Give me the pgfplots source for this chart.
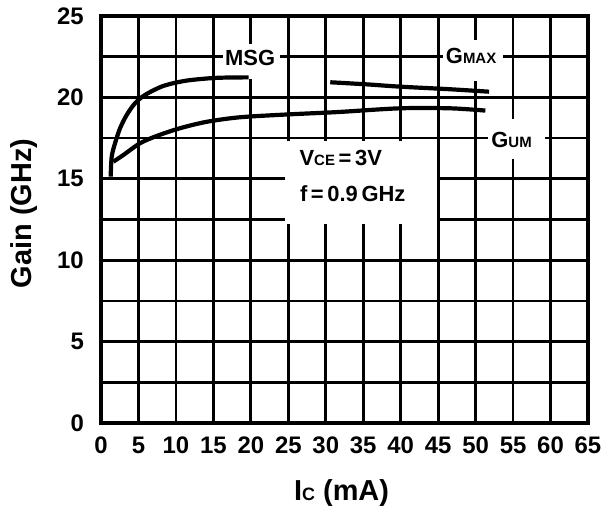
\documentclass[border=0pt]{standalone}
\usepackage{fontspec}
\setmainfont{Liberation Sans}
\usepackage{pgfplots}
\pgfplotsset{compat=1.18}
\newcommand{\tickf}{\fontsize{24}{26}\bfseries\selectfont}
\newcommand{\labf}{\fontsize{29}{31}\bfseries\selectfont}
\newcommand{\labsf}{\fontsize{18}{20}\bfseries\selectfont}
\newcommand{\bigf}{\fontsize{22}{24}\bfseries\selectfont}
\newcommand{\smf}{\fontsize{15}{16}\bfseries\selectfont}
\begin{document}
\begin{tikzpicture}
\useasboundingbox (-101bp,-93bp) rectangle (504bp,423bp);
\begin{axis}[
 scale only axis, width=487bp, height=407bp,
 xmin=0,xmax=65,ymin=0,ymax=25,
 xtick={0,5,...,65}, ytick={0,5,...,25},
 minor ytick={2.5,7.5,...,22.5},
 grid=both,
 major grid style={black, line width=2.8bp},
 minor grid style={black, line width=2.8bp},
 axis line style={black, line width=3.6bp},
 major tick length=0pt, minor tick length=0pt,
 /pgf/number format/assume math mode=true,
 tick label style={font=\tickf, inner sep=0pt},
 xticklabel style={anchor=north, yshift=-14bp},
 yticklabel style={anchor=east, xshift=-17bp},
 xlabel={I{\labsf C} (mA)},
 ylabel={Gain (GHz)},
 label style={font=\labf},
 xlabel style={at={(axis description cs:0.494,-0.1916)}, anchor=base},
 ylabel style={at={(axis description cs:-0.158,0.515)}, anchor=center},
]
% white masks behind annotations
\fill[white] (axis cs:24.6,12.2) rectangle (axis cs:44.8,17.3);
\fill[white] (axis cs:16.3,21.1) rectangle (axis cs:23.9,23.3);
\fill[white] (axis cs:45.7,21.0) rectangle (axis cs:53.7,23.5);
\fill[white] (axis cs:51.7,16.2) rectangle (axis cs:59.3,18.7);

\addplot[black, line width=4.2bp, smooth, tension=0.5] coordinates {
 (1.29,15.13) (1.43,16.36) (1.87,17.18) (2.54,18.1) (3.43,18.92) (4.54,19.64)
 (5.87,20.15) (8.3,20.7) (11.4,21.03) (15.4,21.2) (19.7,21.23)};
\addplot[black, line width=4.2bp, smooth, tension=0.5] coordinates {
 (1.65,16.05) (2.98,16.46) (5.2,17.18) (7.43,17.63) (10.5,18.1) (14.1,18.5)
 (18.56,18.78) (25.2,18.96) (31.6,19.1) (39.9,19.33) (46.6,19.33) (51.3,19.19)};
\addplot[black, line width=4.2bp, smooth, tension=0.5] coordinates {
 (30.6,20.93) (35.5,20.8) (39.9,20.66) (46.6,20.5) (51.8,20.35)};

\node[font=\bigf] at (axis cs:19.9,22.4) {MSG};
\node[font=\bigf] at (axis cs:49.4,22.55) {G{\smf MAX}};
\node[font=\bigf] at (axis cs:54.8,17.4) {G{\smf UM}};
\node[font=\bigf] at (axis cs:32.0,16.3) {V{\smf CE}\,=\,3V};
\node[font=\bigf] at (axis cs:33.6,14.1) {f\,=\,0.9\,GHz};
\end{axis}
\end{tikzpicture}
\end{document}
